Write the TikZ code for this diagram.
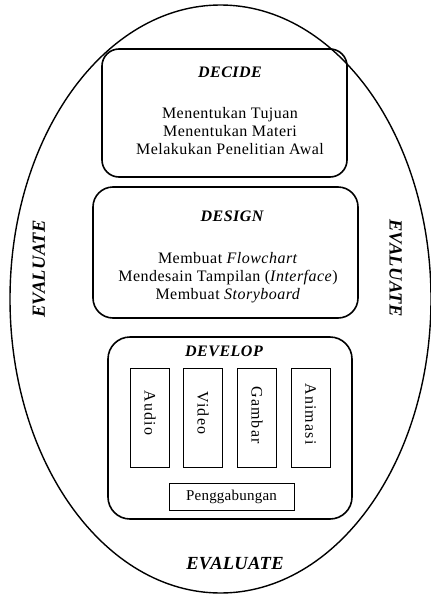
\documentclass[tikz,border=0pt]{standalone}
\usepackage{fontspec}
\setmainfont{Liberation Serif}
\newfontfamily\bodyfont[LetterSpace=3]{Liberation Serif}
\newfontfamily\smallfont[LetterSpace=1.5]{Liberation Serif}
\newfontfamily\vertfont[LetterSpace=7]{Liberation Serif}
\usetikzlibrary{shapes.geometric}
\begin{document}
\begin{tikzpicture}[x=1pt,y=-1pt,
  phasebox/.style={draw,line width=1.6pt},
  sub/.style={draw,line width=0.8pt,inner sep=0pt},
  txt/.style={font=\bodyfont\fontsize{16}{18.3}\selectfont,align=center,inner sep=0pt},
  vtxt/.style={font=\vertfont\fontsize{16}{18}\selectfont,inner sep=0pt,rotate=-90},
  gtxt/.style={font=\smallfont\fontsize{15}{18}\selectfont,inner sep=0pt},
  ttl/.style={font=\bodyfont\fontsize{16}{18}\selectfont\bfseries\itshape,inner sep=0pt},
  evtl/.style={font=\smallfont\fontsize{18.5}{20}\selectfont\bfseries\itshape,inner sep=0pt}]
\useasboundingbox (0,0) rectangle (431,597);
\node[ellipse,draw,line width=1.4pt,minimum width=421pt,minimum height=588pt,inner sep=0pt] (ev) at (220.5,299) {};
% DECIDE
\draw[phasebox,rounded corners=17pt] (102,49) rectangle (347,177);
\node[ttl] (decide) at (230,72) {DECIDE};
\node[txt] (decidetxt) at (230,131) {Menentukan Tujuan\\Menentukan Materi\\Melakukan Penelitian Awal};
% DESIGN
\draw[phasebox,rounded corners=20pt] (93,187) rectangle (358,318);
\node[ttl] (design) at (232,216) {DESIGN};
\node[txt] (designtxt) at (228,277.5) {Membuat \textit{Flowchart}\\Mendesain Tampilan (\textit{Interface})\\Membuat \textit{Storyboard}};
% DEVELOP
\draw[phasebox,rounded corners=22pt] (108,337) rectangle (352,519);
\node[ttl] (develop) at (224,351) {DEVELOP};
\node[sub,minimum width=39pt,minimum height=99pt] (audio) at (150,417.5) {};
\node[vtxt] (audiot) at (150,413) {Audio};
\node[sub,minimum width=39pt,minimum height=99pt] (video) at (203,417.5) {};
\node[vtxt] (videot) at (203,413) {Video};
\node[sub,minimum width=39pt,minimum height=99pt] (gambar) at (257,417.5) {};
\node[vtxt] (gambart) at (257,415) {Gambar};
\node[sub,minimum width=39pt,minimum height=99pt] (animasi) at (310.5,417.5) {};
\node[vtxt] (animasit) at (310.5,414) {Animasi};
\node[sub,minimum width=125pt,minimum height=27pt] (gabung) at (231.5,496.5) {};
\node[gtxt] (gabungt) at (gabung.center) {Penggabungan};
% EVALUATE labels
\node[evtl,rotate=90] (evl) at (39,269) {EVALUATE};
\node[evtl,rotate=-90] (evr) at (395.5,268) {EVALUATE};
\node[evtl] (evb) at (235,563.5) {EVALUATE};
\end{tikzpicture}
\end{document}
